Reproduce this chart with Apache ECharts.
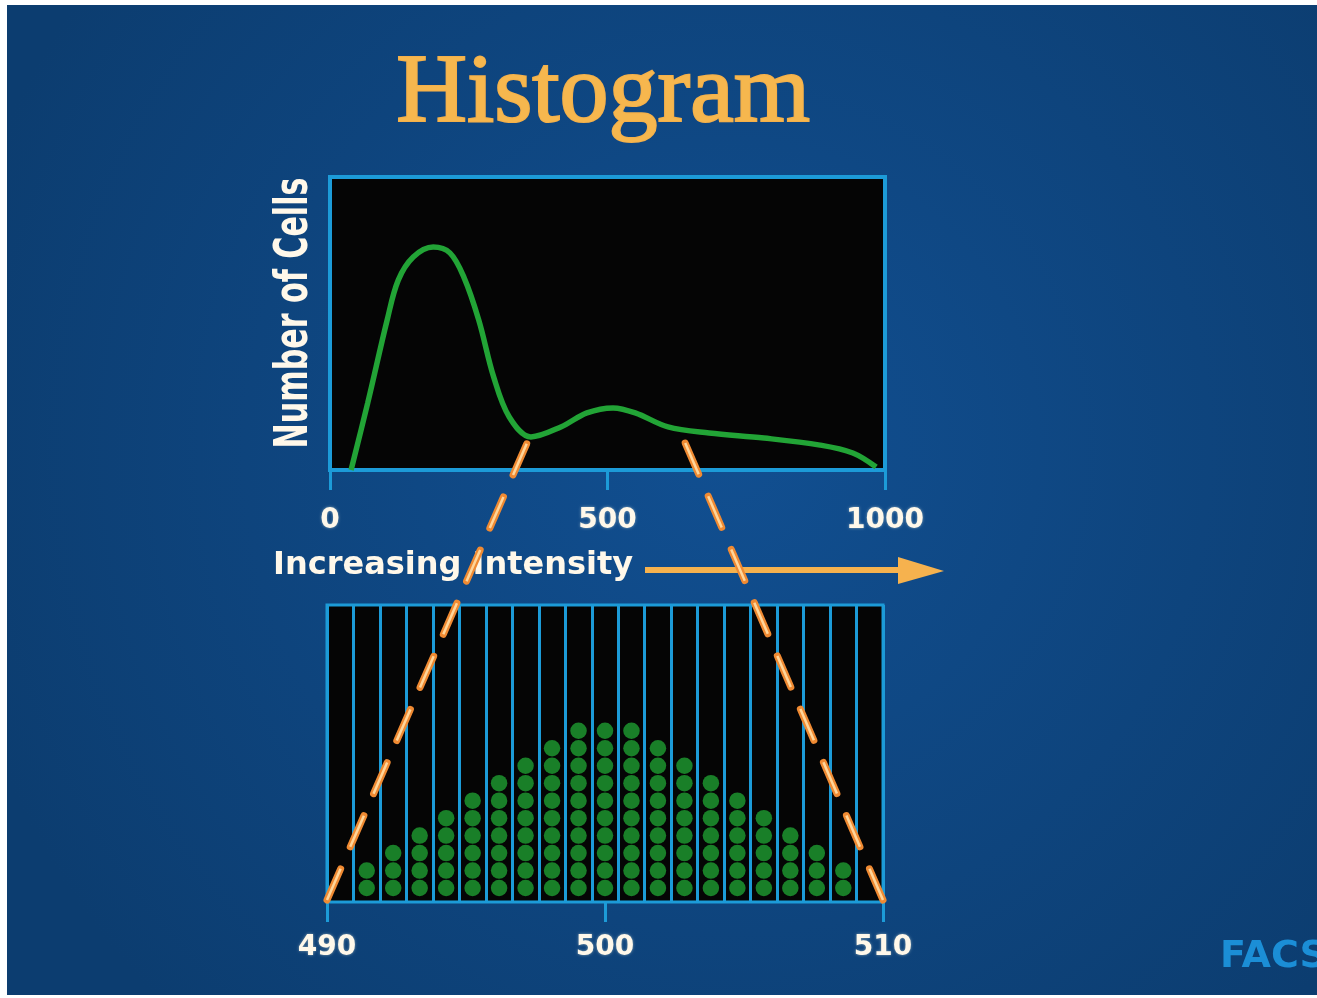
<!DOCTYPE html>
<html>
<head>
<meta charset="utf-8">
<script src="https://cdn.jsdelivr.net/npm/echarts@6/dist/echarts.min.js"></script>
<style>
html,body{margin:0;padding:0;background:#ffffff;}
#chart{width:1317px;height:998px;}
</style>
</head>
<body>
<div id="chart"></div>
<script>
// ---- data ----
// top panel: smoothed histogram (intensity 0..1000, relative number of cells 0..100)
const intensity = [38, 68, 103, 123, 150, 186, 216, 241, 268, 295, 323, 362, 416, 463, 510, 550, 609, 683, 782, 883, 942, 984];
const cellCount = [0, 22.9, 51.2, 64.8, 72.7, 76.1, 74.1, 65.9, 51.2, 31.7, 18.1, 11.3, 14.7, 19.5, 21.2, 19.5, 14.7, 12.6, 10.9, 8.5, 5.8, 1.0];
const topTicks = ['0', '500', '1000'];
// bottom panel: cells per channel (21 channels between 490 and 510)
const binCounts = [0, 2, 3, 4, 5, 6, 7, 8, 9, 10, 10, 10, 9, 8, 7, 6, 5, 4, 3, 2, 0];
const bottomTicks = ['490', '500', '510'];
// zoom connectors: top-panel intensity -> bottom-panel channel edge
const zoomFrom = [355, 640];
const zoomTo = [490, 510];

const CYAN = '#1c9bd8';
const chart = echarts.init(document.getElementById('chart'));

const curve = intensity.map((x, i) => [x, cellCount[i]]);
const dots = [];
binCounts.forEach((n, lane) => {
  for (let r = 0; r < n; r++) dots.push([lane + 0.5, r + 0.8]);
});

const labelStyle = {color: '#fff8ea', fontSize: 28, fontWeight: 'bold', fontFamily: 'DejaVu Sans',
  textShadowColor: 'rgba(255,255,230,0.5)', textShadowBlur: 3};

chart.setOption({
  animation: false,
  grid: [
    {left: 330, top: 177, width: 555, height: 293, show: true, backgroundColor: '#050505', borderColor: CYAN, borderWidth: 4},
    {left: 327, top: 605, width: 556, height: 297, show: true, backgroundColor: '#050505', borderColor: CYAN, borderWidth: 3}
  ],
  xAxis: [
    {gridIndex: 0, type: 'value', min: 0, max: 1000, interval: 500,
     axisLine: {show: false}, splitLine: {show: false},
     axisTick: {show: true, length: 20, lineStyle: {color: CYAN, width: 3}},
     axisLabel: Object.assign({margin: 37, formatter: v => topTicks[v / 500]}, labelStyle)},
    {gridIndex: 1, type: 'value', min: 490, max: 510, interval: 10,
     axisLine: {show: false}, splitLine: {show: false},
     axisTick: {show: true, length: 20, lineStyle: {color: CYAN, width: 3}},
     axisLabel: Object.assign({margin: 32, formatter: v => bottomTicks[(v - 490) / 10]}, labelStyle)},
    {gridIndex: 1, type: 'value', min: 0, max: binCounts.length, interval: 1,
     axisLine: {show: false}, axisTick: {show: false}, axisLabel: {show: false},
     splitLine: {show: true, lineStyle: {color: CYAN, width: 3}}}
  ],
  yAxis: [
    {gridIndex: 0, type: 'value', min: 0, max: 100, show: false},
    {gridIndex: 1, type: 'value', min: 0, max: 17, show: false}
  ],
  series: [
    {type: 'line', xAxisIndex: 0, yAxisIndex: 0, data: curve, smooth: 0.35, symbol: 'none',
     lineStyle: {color: '#22a436', width: 5.5}, z: 5},
    {type: 'scatter', xAxisIndex: 2, yAxisIndex: 1, data: dots, symbol: 'circle', symbolSize: 16.5,
     itemStyle: {color: '#1e9e31'}, z: 5}
  ]
});

// decorations; connector positions come from the axes
const g = [];
g.push({id: 'bg', type: 'rect', z: -100, silent: true,
  shape: {x: 7, y: 5, width: 1310, height: 990},
  style: {fill: new echarts.graphic.RadialGradient(0.55, 0.45, 0.8, [
    {offset: 0, color: '#114f91'}, {offset: 1, color: '#0c3d70'}])}});
g.push({id: 'title', type: 'text', x: 603, y: 95, z: 10,
  style: {text: 'Histogram', font: '98px "Liberation Serif"', fill: '#f6b74e', stroke: '#f4b04a', lineWidth: 2.2,
    align: 'center', verticalAlign: 'middle', shadowColor: 'rgba(60,20,0,0.6)', shadowBlur: 3, shadowOffsetX: 1, shadowOffsetY: 1}});
g.push({id: 'ylab', type: 'text', x: 295, y: 313, rotation: Math.PI / 2, scaleX: 0.655, z: 10,
  style: {text: 'Number of Cells', font: 'bold 46px "DejaVu Sans"', fill: '#fff8ea', align: 'center', verticalAlign: 'middle'}});
g.push({id: 'xlab', type: 'text', x: 273, y: 566, z: 10,
  style: {text: 'Increasing Intensity', font: 'bold 32px "DejaVu Sans"', fill: '#fff8ea', align: 'left', verticalAlign: 'middle',
    shadowColor: 'rgba(255,255,230,0.5)', shadowBlur: 3}});
g.push({id: 'arrowLine', type: 'line', z: 10, shape: {x1: 645, y1: 570, x2: 905, y2: 570},
  style: {stroke: '#f6b24e', lineWidth: 6}});
g.push({id: 'arrowHead', type: 'polygon', z: 10, shape: {points: [[898, 557], [944, 571], [898, 584]]},
  style: {fill: '#f6b24e'}});
g.push({id: 'facs', type: 'text', x: 1220, y: 957, z: 10,
  style: {text: 'FACS', font: 'bold 38px "DejaVu Sans"', fill: '#1b8ed6', align: 'left', verticalAlign: 'middle'}});

zoomFrom.forEach((fx, i) => {
  const top = chart.convertToPixel({xAxisIndex: 0, yAxisIndex: 0}, [fx, 9.2]);
  const bot = chart.convertToPixel({xAxisIndex: 1, yAxisIndex: 1}, [zoomTo[i], 0]);
  const shape = {x1: bot[0], y1: bot[1] - 2, x2: top[0], y2: top[1]};
  g.push({id: 'conn' + i, type: 'line', z: 20, shape: shape,
    style: {stroke: '#f08a32', lineWidth: 7, lineDash: [34, 24], lineCap: 'round'}});
  g.push({id: 'connc' + i, type: 'line', z: 21, shape: shape,
    style: {stroke: '#ffd69a', lineWidth: 2.5, lineDash: [34, 24]}});
});
chart.setOption({graphic: g});
</script>
</body>
</html>
